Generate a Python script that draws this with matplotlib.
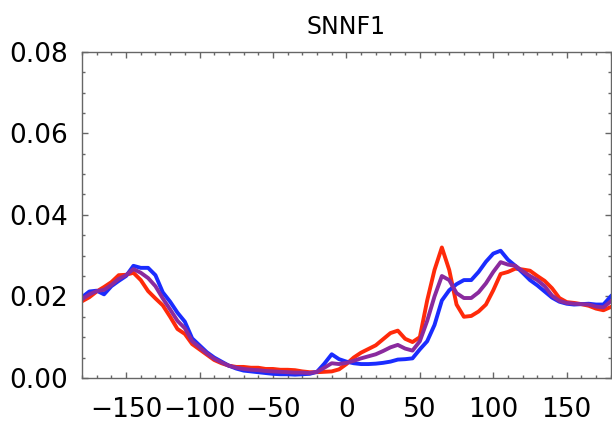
import matplotlib
matplotlib.use("Agg")
import matplotlib.pyplot as plt
from matplotlib.ticker import MultipleLocator

# angle grid (degrees)
angulos = list(range(-180, 181, 5))

serie_vermelha = [
    0.0188, 0.0198, 0.0212, 0.0223, 0.0235, 0.0252, 0.0253, 0.0258, 0.0240, 0.0213,
    0.0195, 0.0178, 0.0150, 0.0120, 0.0108, 0.0083, 0.0070, 0.0057, 0.0044, 0.0036,
    0.0030, 0.0027, 0.0027, 0.0025, 0.0025, 0.0022, 0.0022, 0.0020, 0.0020, 0.0019,
    0.0016, 0.0014, 0.0014, 0.0015, 0.0016, 0.0021, 0.0034, 0.0050, 0.0062, 0.0071,
    0.0080, 0.0095, 0.0110, 0.0116, 0.0096, 0.0088, 0.0100, 0.0190, 0.0265, 0.0320,
    0.0265, 0.0180, 0.0150, 0.0152, 0.0163, 0.0180, 0.0215, 0.0255, 0.0260, 0.0268,
    0.0266, 0.0263, 0.0250, 0.0238, 0.0220, 0.0196, 0.0186, 0.0184, 0.0181, 0.0177,
    0.0170, 0.0166, 0.0174,
]

serie_azul = [
    0.0198, 0.0212, 0.0214, 0.0205, 0.0225, 0.0238, 0.0250, 0.0275, 0.0270, 0.0270,
    0.0252, 0.0210, 0.0187, 0.0160, 0.0138, 0.0097, 0.0080, 0.0063, 0.0050, 0.0040,
    0.0030, 0.0023, 0.0018, 0.0016, 0.0014, 0.0012, 0.0010, 0.0009, 0.0009, 0.0008,
    0.0009, 0.0010, 0.0015, 0.0035, 0.0058, 0.0046, 0.0040, 0.0036, 0.0034, 0.0034,
    0.0035, 0.0037, 0.0040, 0.0045, 0.0046, 0.0048, 0.0070, 0.0090, 0.0130, 0.0190,
    0.0215, 0.0230, 0.0240, 0.0240, 0.0260, 0.0285, 0.0305, 0.0312, 0.0290, 0.0275,
    0.0258, 0.0240, 0.0227, 0.0212, 0.0197, 0.0187, 0.0182, 0.0180, 0.0181, 0.0182,
    0.0180, 0.0180, 0.0200,
]

serie_roxa = [
    0.0193, 0.0205, 0.0213, 0.0216, 0.0228, 0.0243, 0.0252, 0.0267, 0.0258, 0.0245,
    0.0225, 0.0195, 0.0168, 0.0140, 0.0122, 0.0090, 0.0075, 0.0060, 0.0047, 0.0038,
    0.0030, 0.0025, 0.0022, 0.0020, 0.0019, 0.0017, 0.0016, 0.0015, 0.0014, 0.0013,
    0.0013, 0.0012, 0.0015, 0.0025, 0.0036, 0.0034, 0.0037, 0.0042, 0.0048, 0.0053,
    0.0058, 0.0066, 0.0075, 0.0081, 0.0072, 0.0067, 0.0090, 0.0140, 0.0200, 0.0250,
    0.0240, 0.0208, 0.0196, 0.0196, 0.0210, 0.0232, 0.0260, 0.0284, 0.0278, 0.0275,
    0.0262, 0.0250, 0.0240, 0.0225, 0.0202, 0.0189, 0.0184, 0.0182, 0.0181, 0.0180,
    0.0175, 0.0173, 0.0188,
]

titulo = "SNNF1"

fig = plt.figure(figsize=(6.12, 4.28), dpi=100)
ax = fig.add_axes([0.134, 0.117, 0.864, 0.762])

ax.plot(angulos, serie_vermelha, color="#ff2a0a", lw=2.8, solid_joinstyle="round")
ax.plot(angulos, serie_azul, color="#1a2cff", lw=2.8, solid_joinstyle="round")
ax.plot(angulos, serie_roxa, color="#8a2a9e", lw=2.8, solid_joinstyle="round")

ax.set_xlim(-180, 180)
ax.set_ylim(0, 0.08)
ax.xaxis.set_major_locator(MultipleLocator(50))
ax.xaxis.set_minor_locator(MultipleLocator(10))
ax.yaxis.set_major_locator(MultipleLocator(0.02))
ax.yaxis.set_minor_locator(MultipleLocator(0.005))
ax.yaxis.set_major_formatter(plt.FuncFormatter(lambda v, p: f"{v:.2f}"))

ax.tick_params(which="both", direction="in", top=True, right=True,
               color="#666666", width=1)
ax.tick_params(which="major", length=4, labelsize=19)
ax.tick_params(axis="y", which="major", pad=10)
ax.tick_params(axis="x", which="major", pad=14)
ax.tick_params(which="minor", length=2)
for lado in ax.spines.values():
    lado.set_color("#666666")
    lado.set_linewidth(1)

ax.set_title(titulo, fontsize=17, pad=13)

fig.savefig("out.png", dpi=100)
